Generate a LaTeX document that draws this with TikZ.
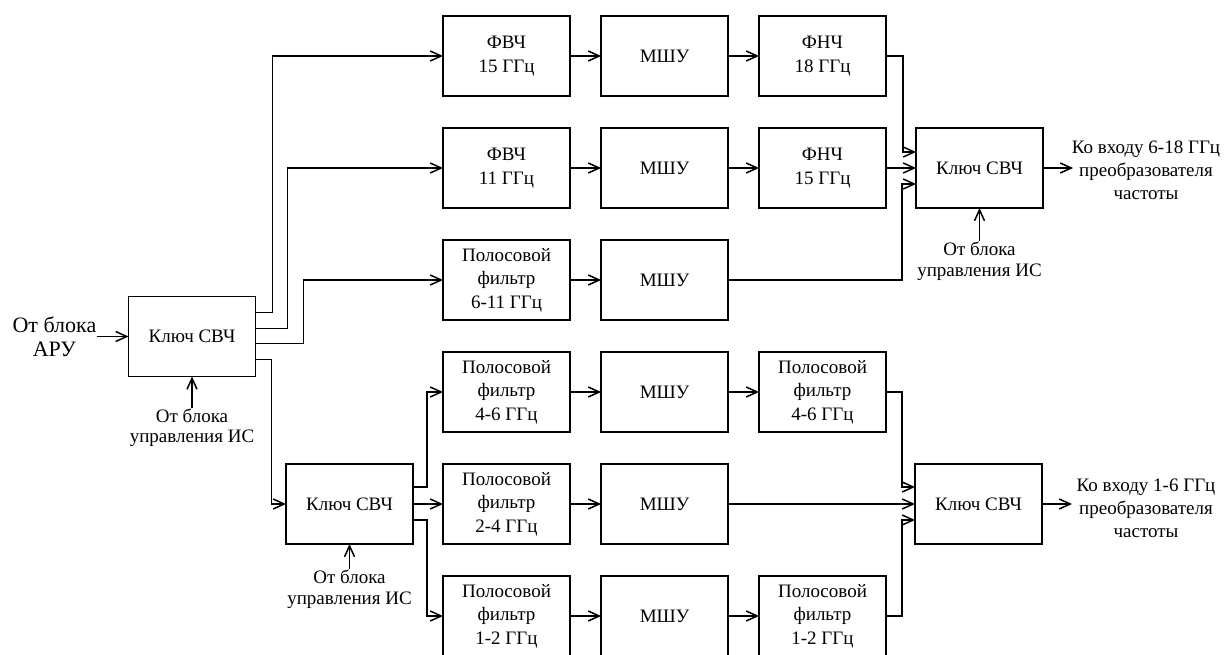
\documentclass[tikz,border=0pt]{standalone}
\usepackage{fontspec}
\setmainfont{Liberation Serif}
\usetikzlibrary{arrows.meta,positioning,calc}
\tikzset{
  blk/.style={
    draw,line width=1.5pt,fill=white,
    minimum width=127pt,minimum height=80pt,
    inner sep=0pt,outer sep=0pt,align=center,
    font=\fontsize{19}{23.5}\selectfont
  },
  ctrl/.style={align=center,inner sep=1pt,font=\fontsize{19}{20.5}\selectfont},
  outlbl/.style={align=center,inner sep=0pt,font=\fontsize{19}{23}\selectfont},
  inlbl/.style={align=center,inner sep=0pt,font=\fontsize{22}{23.5}\selectfont},
  arr/.style={-{Straight Barb[length=11pt,width=10pt]},line width=1.5pt}
}
\begin{document}
\begin{tikzpicture}[x=1pt,y=-1pt,node distance=31pt]
\useasboundingbox (0,0) rectangle (1224,655);

% upper group 6-18 GHz
\node[blk] (f1) at (506.5,56) {ФВЧ\\15 ГГц};
\node[blk,right=of f1] (m1) {МШУ};
\node[blk,right=of m1] (h1) {ФНЧ\\18 ГГц};

\node[blk,below=32pt of f1] (f2) {ФВЧ\\11 ГГц};
\node[blk,right=of f2] (m2) {МШУ};
\node[blk,right=of m2] (h2) {ФНЧ\\15 ГГц};

\node[blk,below=32pt of f2] (f3) {Полосовой\\фильтр\\6-11 ГГц};
\node[blk,right=of f3] (m3) {МШУ};

\node[blk,right=30pt of h2] (k3) {Ключ СВЧ};

% lower group 1-6 GHz
\node[blk,below=32pt of f3] (f4) {Полосовой\\фильтр\\4-6 ГГц};
\node[blk,right=of f4] (m4) {МШУ};
\node[blk,right=of m4] (b4) {Полосовой\\фильтр\\4-6 ГГц};

\node[blk,below=32pt of f4] (f5) {Полосовой\\фильтр\\2-4 ГГц};
\node[blk,right=of f5] (m5) {МШУ};

\node[blk,below=32pt of f5] (f6) {Полосовой\\фильтр\\1-2 ГГц};
\node[blk,right=of f6] (m6) {МШУ};
\node[blk,right=of m6] (b6) {Полосовой\\фильтр\\1-2 ГГц};

\node[blk,right=187pt of m5] (k4) {Ключ СВЧ};

% input switches
\node[blk] (k1) at (192,336.5) {Ключ СВЧ};
\node[blk,left=30pt of f5] (k2) {Ключ СВЧ};

\node[inlbl,left=32pt of k1] (aru) {От блока\\АРУ};
\node[ctrl,below=31pt of k1] (c1) {От блока\\управления ИС};
\node[ctrl,below=25pt of k2] (c2) {От блока\\управления ИС};
\node[ctrl,below=33pt of k3] (c3) {От блока\\управления ИС};

\coordinate[right=30pt of k3] (o3);
\coordinate[right=30pt of k4] (o4);
\node[outlbl] (t3) at (1146,170) {Ко входу 6-18 ГГц\\преобразователя\\частоты};
\node[outlbl] (t4) at (1146,508) {Ко входу 1-6 ГГц\\преобразователя\\частоты};

% connections
\draw[arr] (aru) -- (k1);
\draw[arr] (c1) -- (k1);
\draw[arr] (c2) -- (k2);
\draw[arr] (c3) -- (k3);

\draw[arr] ($(k1.east)+(0,-24)$) -- ++(17,0) |- (f1.west);
\draw[arr] ($(k1.east)+(0,-8)$) -- ++(32,0) |- (f2.west);
\draw[arr] ($(k1.east)+(0,7)$) -- ++(48,0) |- (f3.west);
\draw[arr] ($(k1.east)+(0,23)$) -- ++(16,0) |- (k2.west);

\draw[arr] ($(k2.east)+(0,-17)$) -- ++(14,0) |- (f4.west);
\draw[arr] (k2) -- (f5);
\draw[arr] ($(k2.east)+(0,16)$) -- ++(14,0) |- (f6.west);

\draw[arr] (f1) -- (m1);
\draw[arr] (m1) -- (h1);
\draw[arr] (f2) -- (m2);
\draw[arr] (m2) -- (h2);
\draw[arr] (f3) -- (m3);
\draw[arr] (f4) -- (m4);
\draw[arr] (m4) -- (b4);
\draw[arr] (f5) -- (m5);
\draw[arr] (f6) -- (m6);
\draw[arr] (m6) -- (b6);

\draw[arr] (h1.east) -- ++(17,0) |- ($(k3.west)+(0,-16)$);
\draw[arr] (h2) -- (k3);
\draw[arr] (m3.east) -- ++(174,0) |- ($(k3.west)+(0,16)$);

\draw[arr] (b4.east) -- ++(16,0) |- ($(k4.west)+(0,-17)$);
\draw[arr] (m5) -- (k4);
\draw[arr] (b6.east) -- ++(16,0) |- ($(k4.west)+(0,16)$);

\draw[arr] (k3) -- (o3);
\draw[arr] (k4) -- (o4);
\end{tikzpicture}
\end{document}
